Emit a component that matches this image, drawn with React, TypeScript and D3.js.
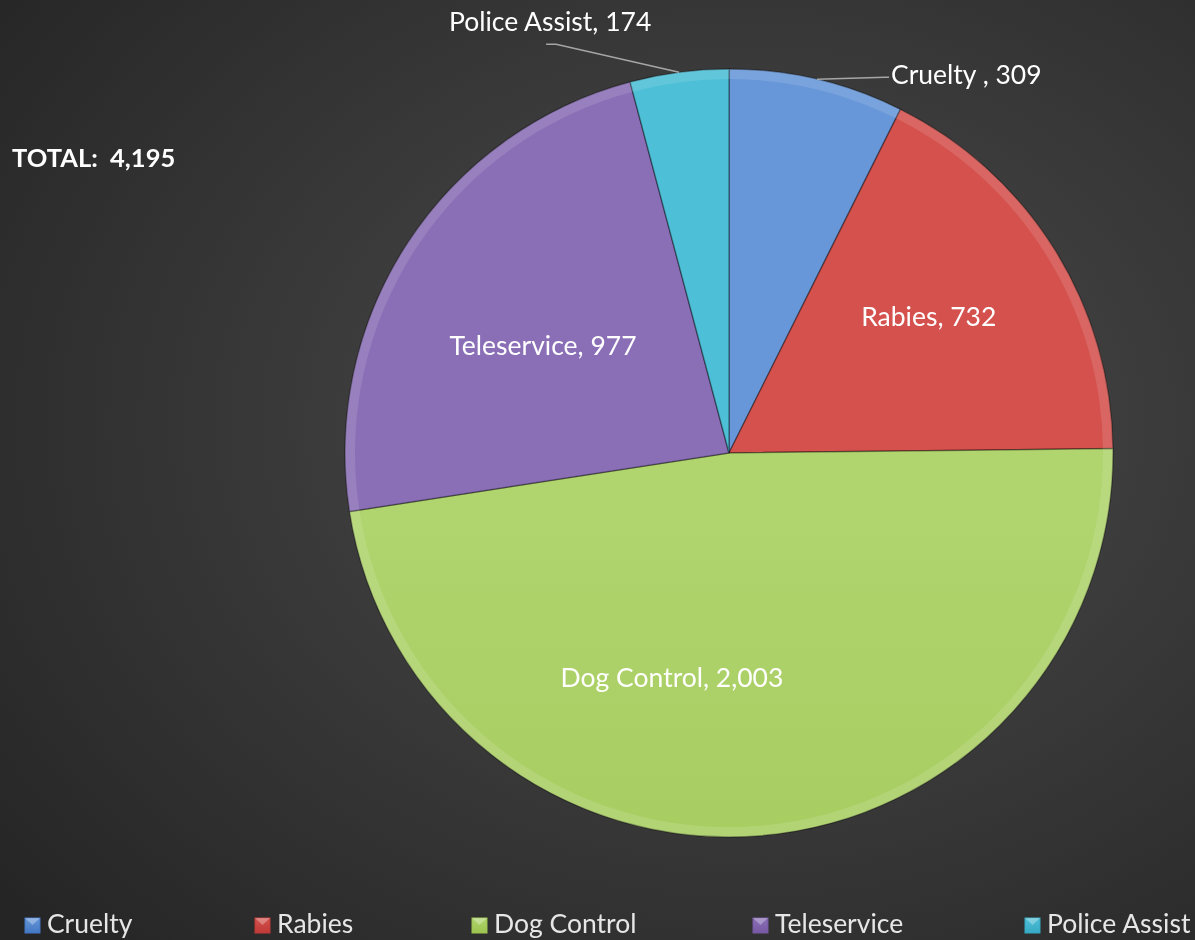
import React, { useRef, useEffect } from 'react';
import * as d3 from 'd3';

// chart data, clockwise from 12 o'clock
const categories = ['Cruelty', 'Rabies', 'Dog Control', 'Teleservice', 'Police Assist'];
const values = [309, 732, 2003, 977, 174];
const labelTexts = ['Cruelty , 309', 'Rabies, 732', 'Dog Control, 2,003', 'Teleservice, 977', 'Police Assist, 174'];
const totalLabel = 'TOTAL:  4,195';

// slice colours: top / bottom of gradient
const colorsTop = ['#6797d8', '#d4514d', '#b0d46e', '#8a6fb6', '#4dbfd6'];
const colorsBottom = ['#4277c4', '#bf3a37', '#9cc44f', '#7759a3', '#37a9c4'];

const W = 1195;
const H = 940;
const FONT = 'Lato, "Open Sans", sans-serif';

const App = () => {
  const svgRef = useRef<SVGSVGElement>(null);

  useEffect(() => {
    const svg = d3.select(svgRef.current);
    svg.selectAll('*').remove();

    const cx = 729;
    const cy = 453;
    const r = 384;

    const defs = svg.append('defs');

    // background
    const bg = defs.append('radialGradient')
      .attr('id', 'bg')
      .attr('cx', '0.62').attr('cy', '0.45').attr('r', '0.8');
    bg.append('stop').attr('offset', '0%').attr('stop-color', '#4c4c4c');
    bg.append('stop').attr('offset', '100%').attr('stop-color', '#252525');
    svg.append('rect').attr('width', W).attr('height', H).attr('fill', 'url(#bg)');

    categories.forEach((c, i) => {
      const g = defs.append('linearGradient')
        .attr('id', `slice${i}`)
        .attr('gradientUnits', 'userSpaceOnUse')
        .attr('x1', 0).attr('y1', cy - r).attr('x2', 0).attr('y2', cy + r);
      g.append('stop').attr('offset', '0%').attr('stop-color', colorsTop[i]);
      g.append('stop').attr('offset', '100%').attr('stop-color', colorsBottom[i]);
      const lg = defs.append('linearGradient')
        .attr('id', `leg${i}`)
        .attr('x1', 0).attr('y1', 0).attr('x2', 0).attr('y2', 1);
      lg.append('stop').attr('offset', '0%').attr('stop-color', colorsTop[i]);
      lg.append('stop').attr('offset', '100%').attr('stop-color', colorsBottom[i]);
    });

    const pie = d3.pie<number>().value(d => d).sort(null);
    const arcs = pie(values);

    const arc = d3.arc<d3.PieArcDatum<number>>().innerRadius(0).outerRadius(r);
    const bevel = d3.arc<d3.PieArcDatum<number>>().innerRadius(r - 10).outerRadius(r);

    const chart = svg.append('g').attr('transform', `translate(${cx},${cy})`);

    chart.selectAll('.slice')
      .data(arcs)
      .enter()
      .append('path')
      .attr('class', 'slice')
      .attr('d', arc)
      .attr('fill', (d, i) => `url(#slice${i})`)
      .attr('stroke', 'rgba(0,0,0,0.35)')
      .attr('stroke-width', 1.5);

    // light bevel ring on the rim
    chart.selectAll('.bevel')
      .data(arcs)
      .enter()
      .append('path')
      .attr('class', 'bevel')
      .attr('d', bevel)
      .attr('fill', 'rgba(255,255,255,0.12)');

    // inner labels
    const inner = [1, 2, 3];
    const innerFactor: Record<number, number> = { 1: 0.62, 2: 0.6, 3: 0.56 };
    const innerShift: Record<number, [number, number]> = { 1: [-2, -10], 2: [-76, -5], 3: [-6, 10] };
    inner.forEach(i => {
      const a = arcs[i];
      const mid = (a.startAngle + a.endAngle) / 2;
      const rr = r * innerFactor[i];
      chart.append('text')
        .attr('x', Math.sin(mid) * rr + innerShift[i][0])
        .attr('y', -Math.cos(mid) * rr + innerShift[i][1])
        .attr('dy', '0.35em')
        .attr('text-anchor', 'middle')
        .attr('font-family', FONT)
        .attr('font-size', 26.5)
        .attr('fill', '#ffffff')
        .text(labelTexts[i]);
    });

    // outside labels with leader lines
    const outside = [
      { i: 0, dx: 72, dy: -2, anchor: 'start' },
      { i: 4, dx: -133, dy: -28, anchor: 'middle' },
    ];
    outside.forEach(o => {
      const a = arcs[o.i];
      const mid = (a.startAngle + a.endAngle) / 2;
      const px = Math.sin(mid) * r;
      const py = -Math.cos(mid) * r;
      const ex = px + o.dx;
      const ey = py + o.dy;
      const pts: [number, number][] = o.i === 0
        ? [[px, py], [ex - 4, ey], [ex, ey]]
        : [[px, py], [ex + 10, ey], [ex, ey]];
      chart.append('path')
        .attr('d', d3.line()(pts))
        .attr('fill', 'none')
        .attr('stroke', '#a6a6a6')
        .attr('stroke-width', 1.5);
      chart.append('text')
        .attr('x', o.i === 0 ? ex + 2 : ex + 4)
        .attr('y', o.i === 0 ? ey - 3 : ey - 23)
        .attr('dy', '0.35em')
        .attr('text-anchor', o.anchor)
        .attr('font-family', FONT)
        .attr('font-size', 26.5)
        .attr('fill', '#ffffff')
        .text(labelTexts[o.i]);
    });

    // total
    svg.append('text')
      .attr('x', 12)
      .attr('y', 167)
      .attr('font-family', FONT)
      .attr('font-weight', 'bold')
      .attr('font-size', 25.5)
      .attr('fill', '#ffffff')
      .attr('xml:space', 'preserve')
      .style('white-space', 'pre')
      .text(totalLabel);

    // legend
    const legendX = [25, 255, 472, 753, 1025];
    const legend = svg.append('g');
    categories.forEach((c, i) => {
      const g = legend.append('g').attr('transform', `translate(${legendX[i]},918)`);
      g.append('rect')
        .attr('width', 15).attr('height', 15)
        .attr('fill', `url(#leg${i})`)
        .attr('stroke', colorsBottom[i]);
      g.append('path')
        .attr('d', 'M0,0 L15,0 L7.5,7 Z')
        .attr('fill', 'rgba(255,255,255,0.3)');
      g.append('text')
        .attr('x', 22)
        .attr('y', 15)
        .attr('font-family', FONT)
        .attr('font-size', 26.5)
        .attr('fill', '#e6e6e6')
        .text(c);
    });
  }, []);

  return (
    <svg
      ref={svgRef}
      width={W}
      height={H}
      style={{ position: 'fixed', top: 0, left: 0, display: 'block' }}
    />
  );
};

export default App;
